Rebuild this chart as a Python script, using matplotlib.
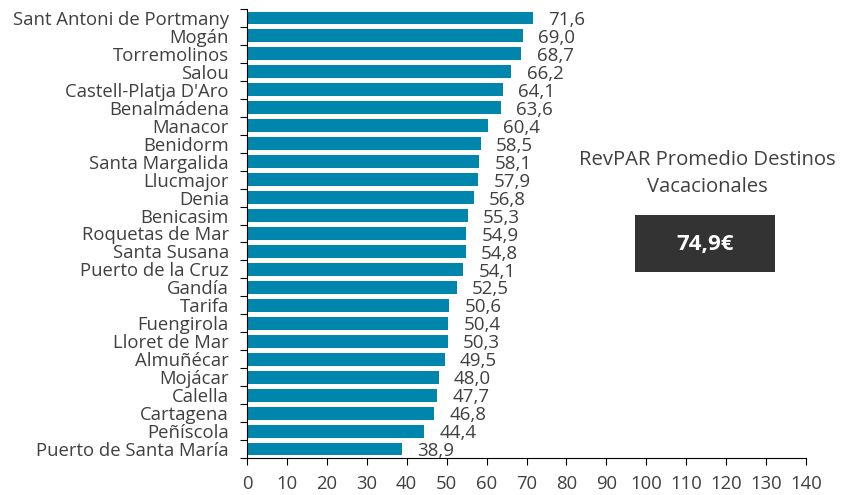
import matplotlib
matplotlib.use("Agg")
import matplotlib.pyplot as plt
from matplotlib.patches import Rectangle

plt.rcParams['font.family'] = ['Open Sans', 'DejaVu Sans']

# datos
destinos = ["Sant Antoni de Portmany", "Mogán", "Torremolinos", "Salou",
            "Castell-Platja D'Aro", "Benalmádena", "Manacor", "Benidorm",
            "Santa Margalida", "Llucmajor", "Denia", "Benicasim",
            "Roquetas de Mar", "Santa Susana", "Puerto de la Cruz", "Gandía",
            "Tarifa", "Fuengirola", "Lloret de Mar", "Almuñécar", "Mojácar",
            "Calella", "Cartagena", "Peñíscola", "Puerto de Santa María"]
revpar = [71.6, 69.0, 68.7, 66.2, 64.1, 63.6, 60.4, 58.5, 58.1, 57.9, 56.8,
          55.3, 54.9, 54.8, 54.1, 52.5, 50.6, 50.4, 50.3, 49.5, 48.0, 47.7,
          46.8, 44.4, 38.9]
xticks = list(range(0, 141, 10))
promedio = "74,9€"

color_barra = "#0086AC"
gris = "#404040"

fig = plt.figure(figsize=(8.41, 4.95), dpi=100)
ax = fig.add_axes([247 / 841, 1 - 458 / 495, 559 / 841, 449 / 495])

ypos = list(range(len(destinos)))
ax.barh(ypos, revpar, height=0.72, color=color_barra)
ax.set_ylim(len(destinos) - 0.5, -0.5)
ax.set_xlim(0, 140)
ax.set_xticks(xticks)
ax.set_xticklabels([str(t) for t in xticks])
ax.set_yticks([y - 0.5 for y in ypos] + [len(destinos) - 0.5])
ax.set_yticklabels([])
ax.set_yticks(ypos, minor=True)
ax.set_yticklabels(destinos, minor=True)
ax.tick_params(axis='y', which='minor', length=0, labelsize=13.3, labelcolor=gris, pad=13)
ax.tick_params(axis='y', which='major', length=5, color='black')
ax.tick_params(axis='x', length=5, labelsize=13.3, labelcolor=gris, pad=7)

for s in ['top', 'right']:
    ax.spines[s].set_visible(False)
ax.spines['left'].set_color('black')
ax.spines['bottom'].set_color('black')

# etiquetas de valores
for y, v in zip(ypos, revpar):
    ax.annotate(f"{v:.1f}".replace(".", ","), (v, y), xytext=(11, -1.5),
                textcoords='offset points', ha='left', va='center',
                fontsize=13.5, color=gris)

# cuadro de promedio
fig.text(707 / 841, 1 - 160 / 495, "RevPAR Promedio Destinos", ha='center',
         va='center', fontsize=14.6, color=gris)
fig.text(707 / 841, 1 - 187 / 495, "Vacacionales", ha='center',
         va='center', fontsize=14.6, color=gris)
fig.patches.append(Rectangle((635 / 841, 1 - 272 / 495), 140 / 841, 57 / 495,
                             transform=fig.transFigure, facecolor="#333333",
                             edgecolor='none'))
fig.text(705 / 841, 1 - 244 / 495, promedio, ha='center', va='center',
         fontsize=16, fontweight='bold', color='white')

fig.savefig("out.png", dpi=100)
